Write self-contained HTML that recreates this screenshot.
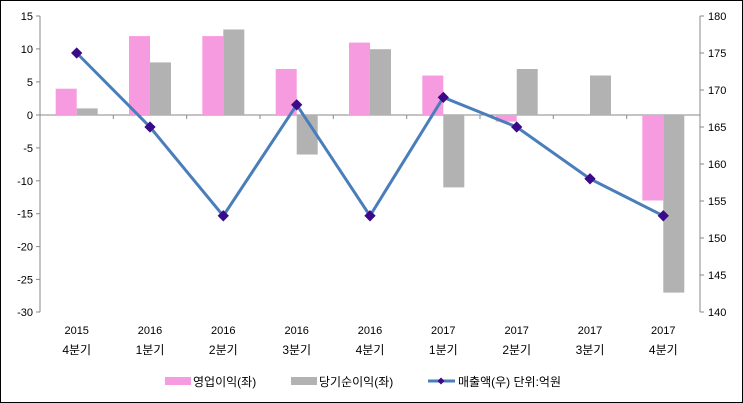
<!DOCTYPE html><html><head><meta charset="utf-8"><style>body{margin:0}svg{display:block}text{font-family:"Liberation Sans","Noto Sans CJK KR",sans-serif;font-size:11px;fill:#000}</style></head><body>
<svg width="743" height="403" xmlns="http://www.w3.org/2000/svg">
<rect x="0.5" y="0.5" width="742" height="402" fill="#fff" stroke="#000"/>
<g stroke="#888">
<line x1="40" y1="16" x2="40" y2="312"/><line x1="700" y1="16" x2="700" y2="312"/><line x1="40" y1="115" x2="700" y2="115"/>
<line x1="36" x2="40" y1="16" y2="16"/><line x1="36" x2="40" y1="48.9" y2="48.9"/><line x1="36" x2="40" y1="81.9" y2="81.9"/><line x1="36" x2="40" y1="115" y2="115"/><line x1="36" x2="40" y1="147.9" y2="147.9"/><line x1="36" x2="40" y1="180.8" y2="180.8"/><line x1="36" x2="40" y1="213.7" y2="213.7"/><line x1="36" x2="40" y1="246.6" y2="246.6"/><line x1="36" x2="40" y1="279.4" y2="279.4"/><line x1="36" x2="40" y1="312" y2="312"/>
<line x1="700" x2="704" y1="16" y2="16"/><line x1="700" x2="704" y1="53" y2="53"/><line x1="700" x2="704" y1="90" y2="90"/><line x1="700" x2="704" y1="127" y2="127"/><line x1="700" x2="704" y1="164" y2="164"/><line x1="700" x2="704" y1="201" y2="201"/><line x1="700" x2="704" y1="238" y2="238"/><line x1="700" x2="704" y1="275" y2="275"/><line x1="700" x2="704" y1="312" y2="312"/>
<line x1="113.3" x2="113.3" y1="115" y2="119"/><line x1="186.7" x2="186.7" y1="115" y2="119"/><line x1="260" x2="260" y1="115" y2="119"/><line x1="333.3" x2="333.3" y1="115" y2="119"/><line x1="406.7" x2="406.7" y1="115" y2="119"/><line x1="480" x2="480" y1="115" y2="119"/><line x1="553.3" x2="553.3" y1="115" y2="119"/><line x1="626.7" x2="626.7" y1="115" y2="119"/>
</g>
<g text-anchor="end">
<text x="33" y="20">15</text><text x="33" y="52.9">10</text><text x="33" y="85.9">5</text><text x="33" y="119">0</text><text x="33" y="151.9">-5</text><text x="33" y="184.8">-10</text><text x="33" y="217.7">-15</text><text x="33" y="250.6">-20</text><text x="33" y="283.4">-25</text><text x="33" y="316">-30</text>
</g>
<g>
<text x="708" y="20">180</text><text x="708" y="57">175</text><text x="708" y="94">170</text><text x="708" y="131">165</text><text x="708" y="168">160</text><text x="708" y="205">155</text><text x="708" y="242">150</text><text x="708" y="279">145</text><text x="708" y="316">140</text>
</g>
<g fill="#f79be0">
<rect x="55.7" y="88.7" width="21" height="26.3"/><rect x="129" y="36.1" width="21" height="78.9"/><rect x="202.3" y="36.1" width="21" height="78.9"/><rect x="275.7" y="69" width="21" height="46"/><rect x="349" y="42.6" width="21" height="72.4"/><rect x="422.3" y="75.5" width="21" height="39.5"/><rect x="495.7" y="115" width="21" height="6.6"/><rect x="642.3" y="115" width="21" height="85.5"/>
</g>
<g fill="#b2b2b2">
<rect x="76.7" y="108.4" width="21" height="6.6"/><rect x="150" y="62.4" width="21" height="52.6"/><rect x="223.3" y="29.5" width="21" height="85.5"/><rect x="296.7" y="115" width="21" height="39.5"/><rect x="370" y="49.2" width="21" height="65.8"/><rect x="443.3" y="115" width="21" height="72.4"/><rect x="516.7" y="69" width="21" height="46"/><rect x="590" y="75.5" width="21" height="39.5"/><rect x="663.3" y="115" width="21" height="177.6"/>
</g>
<polyline points="76.7,53 150,127 223.3,215.8 296.7,104.8 370,215.8 443.3,97.4 516.7,127 590,178.8 663.3,215.8" fill="none" stroke="#4a7ebb" stroke-width="3"/>
<g fill="#3a0a8a">
<rect x="72.7" y="49" width="8" height="8" transform="rotate(45 76.7 53)"/><rect x="146" y="123" width="8" height="8" transform="rotate(45 150 127)"/><rect x="219.3" y="211.8" width="8" height="8" transform="rotate(45 223.3 215.8)"/><rect x="292.7" y="100.8" width="8" height="8" transform="rotate(45 296.7 104.8)"/><rect x="366" y="211.8" width="8" height="8" transform="rotate(45 370 215.8)"/><rect x="439.3" y="93.4" width="8" height="8" transform="rotate(45 443.3 97.4)"/><rect x="512.7" y="123" width="8" height="8" transform="rotate(45 516.7 127)"/><rect x="586" y="174.8" width="8" height="8" transform="rotate(45 590 178.8)"/><rect x="659.3" y="211.8" width="8" height="8" transform="rotate(45 663.3 215.8)"/>
</g>
<g text-anchor="middle">
<text x="76.7" y="334">2015</text><text x="150" y="334">2016</text><text x="223.3" y="334">2016</text><text x="296.7" y="334">2016</text><text x="370" y="334">2016</text><text x="443.3" y="334">2017</text><text x="516.7" y="334">2017</text><text x="590" y="334">2017</text><text x="663.3" y="334">2017</text>
<g style="font-size:12px">
<text x="76.7" y="354" style="font-size:12px">4분기</text><text x="150" y="354" style="font-size:12px">1분기</text><text x="223.3" y="354" style="font-size:12px">2분기</text><text x="296.7" y="354" style="font-size:12px">3분기</text><text x="370" y="354" style="font-size:12px">4분기</text><text x="443.3" y="354" style="font-size:12px">1분기</text><text x="516.7" y="354" style="font-size:12px">2분기</text><text x="590" y="354" style="font-size:12px">3분기</text><text x="663.3" y="354" style="font-size:12px">4분기</text>
</g></g>
<rect x="165" y="377" width="26" height="8" fill="#f79be0"/><text x="193" y="386" style="font-size:12px">영업이익(좌)</text>
<rect x="291" y="377" width="26" height="8" fill="#b2b2b2"/><text x="319" y="386" style="font-size:12px">당기순이익(좌)</text>
<line x1="428" x2="455" y1="381" y2="381" stroke="#4a7ebb" stroke-width="3"/><rect x="438.5" y="378.5" width="5" height="5" fill="#3a0a8a" transform="rotate(45 441 381)"/><text x="458" y="386" style="font-size:12px">매출액(우)  단위:억원</text>
</svg></body></html>
